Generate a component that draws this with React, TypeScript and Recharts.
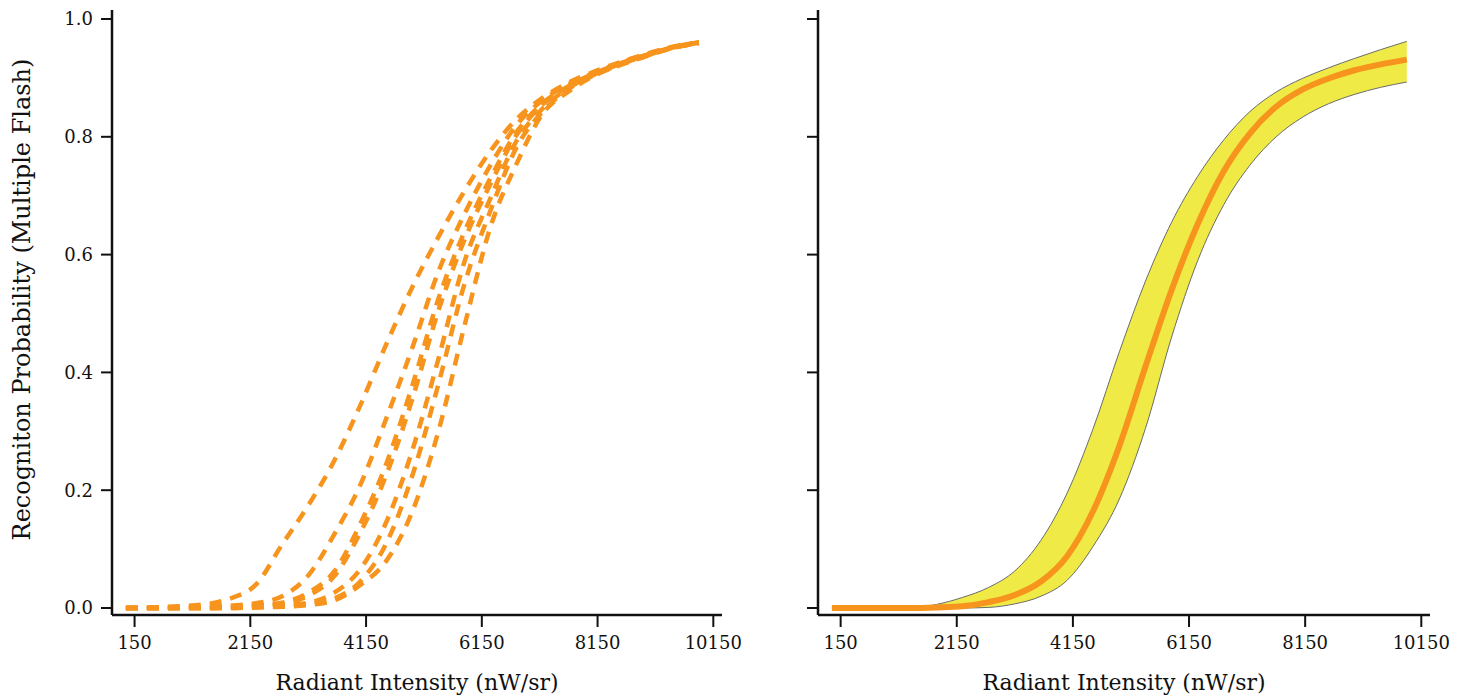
import React from 'react';
import { LineChart, Line, ComposedChart, Area, XAxis, YAxis } from 'recharts';

// radiant intensity grid (nW/sr)
const intensity = [0, 450, 900, 1350, 1800, 2250, 2700, 3150, 3600, 4050, 4500, 4950, 5400, 5850, 6300, 6750, 7200, 7650, 8100, 8550, 9000, 9450, 9900];

// left panel: individual runs
const run1 = [0, 0.001, 0.003, 0.006, 0.016, 0.04, 0.108, 0.174, 0.25, 0.344, 0.448, 0.545, 0.63, 0.708, 0.776, 0.83, 0.866, 0.892, 0.911, 0.927, 0.941, 0.953, 0.96];
const run2 = [0, 0, 0.001, 0.002, 0.004, 0.008, 0.02, 0.055, 0.125, 0.209, 0.322, 0.442, 0.571, 0.669, 0.752, 0.82, 0.862, 0.889, 0.909, 0.926, 0.94, 0.952, 0.96];
const run3 = [0, 0, 0, 0.001, 0.002, 0.004, 0.009, 0.026, 0.062, 0.143, 0.245, 0.378, 0.525, 0.639, 0.73, 0.808, 0.857, 0.886, 0.908, 0.925, 0.939, 0.952, 0.96];
const run4 = [0, 0, 0, 0, 0.001, 0.003, 0.007, 0.021, 0.054, 0.128, 0.226, 0.355, 0.505, 0.625, 0.72, 0.803, 0.855, 0.885, 0.907, 0.924, 0.939, 0.951, 0.959];
const run5 = [0, 0, 0, 0, 0.001, 0.002, 0.005, 0.009, 0.026, 0.066, 0.146, 0.268, 0.423, 0.588, 0.696, 0.793, 0.848, 0.883, 0.906, 0.924, 0.938, 0.952, 0.96];
const run6 = [0, 0, 0, 0, 0, 0.001, 0.003, 0.006, 0.016, 0.045, 0.11, 0.225, 0.38, 0.55, 0.675, 0.782, 0.843, 0.881, 0.905, 0.923, 0.938, 0.951, 0.959];
const run7 = [0, 0, 0, 0, 0, 0.001, 0.002, 0.005, 0.013, 0.039, 0.08, 0.164, 0.3, 0.479, 0.647, 0.754, 0.839, 0.877, 0.904, 0.922, 0.937, 0.951, 0.96];

// right panel: mean with band
const mean = [0, 0, 0, 0, 0.001, 0.003, 0.01, 0.022, 0.045, 0.088, 0.165, 0.275, 0.41, 0.54, 0.652, 0.742, 0.806, 0.851, 0.88, 0.899, 0.913, 0.923, 0.931];
const upper = [0, 0, 0, 0, 0.006, 0.018, 0.035, 0.063, 0.115, 0.195, 0.305, 0.435, 0.555, 0.655, 0.733, 0.795, 0.843, 0.876, 0.899, 0.917, 0.933, 0.948, 0.962];
const lower = [0, 0, 0, 0, 0, 0, 0.001, 0.007, 0.02, 0.047, 0.105, 0.185, 0.305, 0.46, 0.59, 0.685, 0.752, 0.8, 0.833, 0.856, 0.872, 0.884, 0.893];

const xTicks = [150, 2150, 4150, 6150, 8150, 10150];
const yTicks = [0, 0.2, 0.4, 0.6, 0.8, 1.0];

const runs = [run1, run2, run3, run4, run5, run6, run7];
const runData = intensity.map((x, i) => {
  const row: Record<string, number> = { x };
  runs.forEach((r, k) => (row[`run${k + 1}`] = r[i]));
  return row;
});
const bandData = intensity.map((x, i) => ({ x, mean: mean[i], band: [lower[i], upper[i]] }));

const ORANGE = '#F7941D';
const FONT = 'DejaVu Serif';
const INK = '#111';
const X_DOMAIN = [-240, 10300];
const Y_DOMAIN = [-0.0119, 1.0153];

const tickStyle = { fill: INK, fontSize: 18, fontFamily: FONT };

const XTitle = ({ viewBox }: any) => (
  <text
    x={viewBox.x + viewBox.width / 2}
    y={viewBox.y + viewBox.height - 8}
    textAnchor="middle"
    fill={INK}
    fontSize={22}
    fontFamily={FONT}
  >
    Radiant Intensity (nW/sr)
  </text>
);

const YTitle = ({ viewBox }: any) => {
  const cy = viewBox.y + viewBox.height / 2 - 13;
  return (
    <text
      x={30}
      y={cy}
      transform={`rotate(-90 30 ${cy})`}
      textAnchor="middle"
      fill={INK}
      fontSize={24}
      fontFamily={FONT}
    >
      Recogniton Probability (Multiple Flash)
    </text>
  );
};

export default function App() {
  const xAxis = (
    <XAxis
      dataKey="x"
      type="number"
      domain={X_DOMAIN}
      ticks={xTicks}
      interval={0}
      height={83}
      tickSize={12}
      tickMargin={9}
      tick={tickStyle}
      axisLine={{ stroke: INK, strokeWidth: 2.5 }}
      tickLine={{ stroke: INK, strokeWidth: 2 }}
      label={{ content: XTitle }}
    />
  );

  return (
    <div style={{ position: 'absolute', left: 0, top: 0, width: 1468, height: 698, background: '#fff' }}>
      <div style={{ position: 'absolute', left: 0, top: 0 }}>
        <LineChart width={760} height={698} data={runData} margin={{ top: 10, right: 38, bottom: 0, left: 0 }}>
          {xAxis}
          <YAxis
            type="number"
            domain={Y_DOMAIN}
            ticks={yTicks}
            interval={0}
            width={112}
            tickSize={11}
            tickMargin={8}
            tick={tickStyle}
            tickFormatter={(v: number) => v.toFixed(1)}
            axisLine={{ stroke: INK, strokeWidth: 2.5 }}
            tickLine={{ stroke: INK, strokeWidth: 2 }}
            label={{ content: YTitle }}
          />
          {runs.map((_, k) => (
            <Line
              key={k}
              type="monotone"
              dataKey={`run${k + 1}`}
              stroke={ORANGE}
              strokeWidth={4.5}
              strokeDasharray="12 9"
              dot={false}
              activeDot={false}
              isAnimationActive={false}
            />
          ))}
        </LineChart>
      </div>
      <div style={{ position: 'absolute', left: 706, top: 0 }}>
        <ComposedChart width={762} height={698} data={bandData} margin={{ top: 10, right: 38, bottom: 0, left: 0 }}>
          {xAxis}
          <YAxis
            type="number"
            domain={Y_DOMAIN}
            ticks={yTicks}
            interval={0}
            width={112}
            tickSize={11}
            tickMargin={8}
            tick={tickStyle}
            tickFormatter={() => ''}
            axisLine={{ stroke: INK, strokeWidth: 2.5 }}
            tickLine={{ stroke: INK, strokeWidth: 2 }}
          />
          <Area
            type="monotone"
            dataKey="band"
            fill="#EFEA45"
            fillOpacity={1}
            stroke="#6b6b6b"
            strokeWidth={1}
            dot={false}
            activeDot={false}
            isAnimationActive={false}
          />
          <Line
            type="monotone"
            dataKey="mean"
            stroke={ORANGE}
            strokeWidth={6}
            dot={false}
            activeDot={false}
            isAnimationActive={false}
          />
        </ComposedChart>
      </div>
    </div>
  );
}
